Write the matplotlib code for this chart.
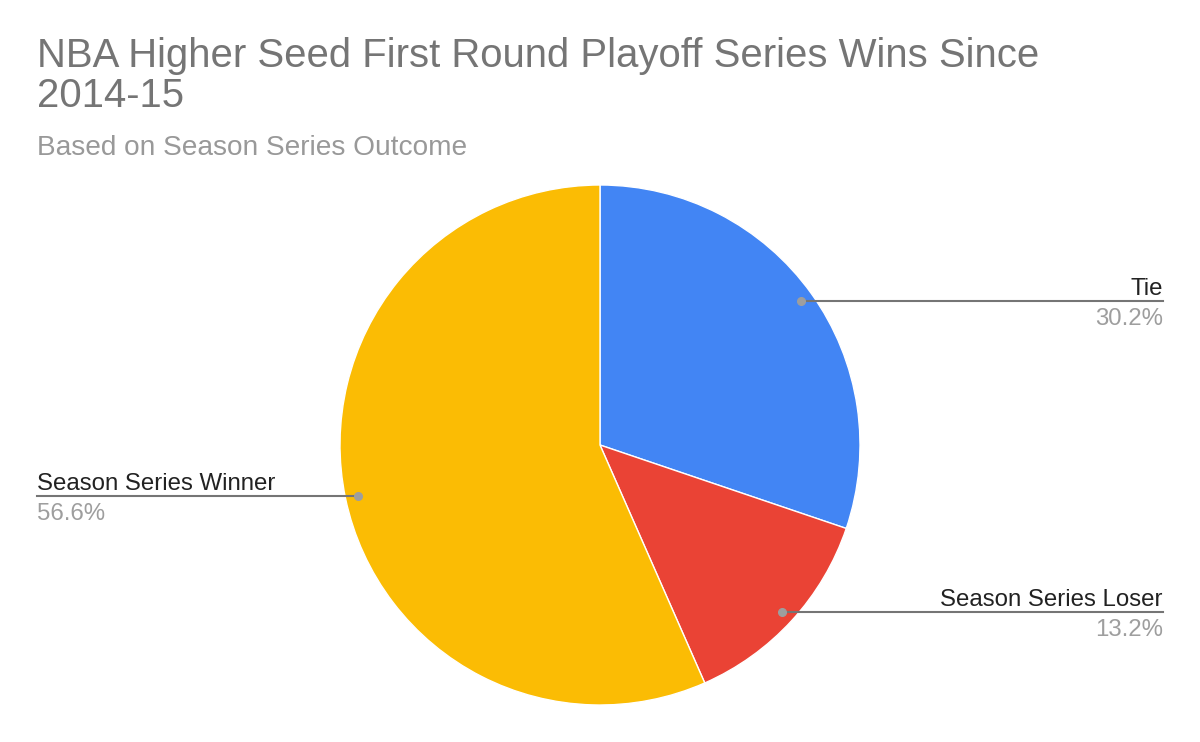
import numpy as np
import matplotlib
matplotlib.use("Agg")
import matplotlib.pyplot as plt

plt.rcParams["font.family"] = ["Liberation Sans", "DejaVu Sans"]

# --- data --------------------------------------------------------------------
labels = ["Tie", "Season Series Loser", "Season Series Winner"]
shares = [30.2, 13.2, 56.6]
colors = ["#4285F4", "#EA4335", "#FBBC04"]

TITLE = "NBA Higher Seed First Round Playoff Series Wins Since\n2014-15"
SUBTITLE = "Based on Season Series Outcome"

W, H = 1200, 742
CX, CY, R = 600, H - 445, 260
LEFT_X, RIGHT_X = 37, 1163

fig = plt.figure(figsize=(W / 100, H / 100), dpi=100)
ax = fig.add_axes([0, 0, 1, 1])

wedges, _ = ax.pie(shares, colors=colors, startangle=90, counterclock=False,
                   center=(CX, CY), radius=R, frame=True,
                   wedgeprops=dict(edgecolor="white", linewidth=1))
ax.set_xlim(0, W)
ax.set_ylim(0, H)
ax.set_aspect("equal")
ax.axis("off")

# leader lines + labels
for w, lab, val in zip(wedges, labels, shares):
    th = np.deg2rad((w.theta1 + w.theta2) / 2)
    px = CX + 0.95 * R * np.cos(th)
    py = CY + 0.95 * R * np.sin(th)
    right = np.cos(th) > 0
    x_end = RIGHT_X if right else LEFT_X
    ax.plot([px, x_end], [py, py], color="#757575", lw=1.5, zorder=3)
    ax.plot(px, py, "o", ms=5.5, color="#9e9e9e", zorder=4)
    ha = "right" if right else "left"
    ax.text(x_end, py + 6, lab, ha=ha, va="baseline", fontsize=17.3,
            color="#222222")
    ax.text(x_end, py - 24, f"{val:.1f}%", ha=ha, va="baseline", fontsize=17.3,
            color="#9e9e9e")

line1, line2 = TITLE.split("\n")
ax.text(LEFT_X, H - 67, line1, ha="left", va="baseline",
        fontsize=28.9, color="#757575")
ax.text(LEFT_X, H - 107, line2, ha="left", va="baseline",
        fontsize=28.9, color="#757575")
ax.text(LEFT_X, H - 155, SUBTITLE, ha="left", va="baseline",
        fontsize=20.2, color="#999999")

fig.savefig("out.png", dpi=100, facecolor="white")
